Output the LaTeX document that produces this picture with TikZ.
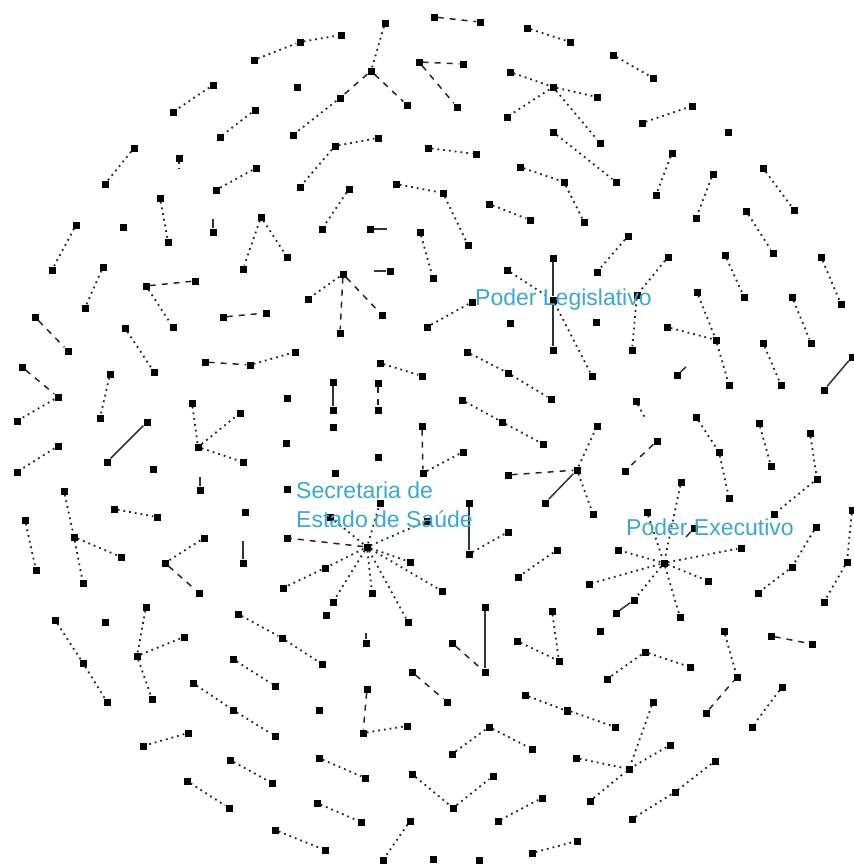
\documentclass[tikz,border=0pt]{standalone}
\usepackage{fontspec}
\setmainfont{Liberation Sans}
\begin{document}
\begin{tikzpicture}[x=1pt,y=-1pt,
  v/.style={rectangle,fill=black,draw=none,minimum size=7pt,inner sep=0pt},
  dl/.style={draw=black!85,line width=1.8pt,dash pattern=on 1.8pt off 4pt},
  hl/.style={draw=black!85,line width=1.5pt,dash pattern=on 6pt off 6pt},
  sl/.style={draw=black!80,line width=1.5pt},
  lbl/.style={text={rgb,255:red,58;green,168;blue,212},font=\fontsize{23}{29}\selectfont,inner sep=0pt}]
\fill[white] (0,0) rectangle (854,865);
\useasboundingbox (0,0) rectangle (854,865);
% nodes
\foreach \n/\x/\y in {A1/254/60, A2/300/42, A3/341/35, A4/213/85, A5/173/112, A6/255/110, A7/220/137, A8/134/148, A9/105/184, A10/179/158, A11/256/168, A12/216/190, A13/160/198, A14/168/242, A15/261/217, A16/243/269, A17/287/257, A18/76/225, A19/52/270, A20/123/227, A21/213/232, A22/103/267, A23/85/308, A24/146/286, A25/195/281, A26/173/327, A27/35/317, A28/68/351, A29/125/328, A30/154/372, A31/223/317, A32/266/313, A33/205/362, A34/250/365, A35/295/352, A36/22/367, A37/58/397, A38/17/421, A39/110/374, A40/100/418, A41/192/403, A42/198/447, A43/240/413, A44/243/462, A45/287/398, A46/147/422, A47/107/462, A48/58/446, A49/17/472, A50/153/469, A51/286/443, A52/64/491, A53/74/537, A54/83/583, A55/121/557, A56/200/490, A57/287/489, A58/114/509, A59/157/517, A60/245/512, A61/25/520, A62/36/570, A63/204/538, A64/165/563, A65/199/593, A66/243/563, A67/287/538, A68/283/588, A69/146/607, A70/137/656, A71/184/637, A72/152/699, A73/55/620, A74/83/663, A75/107/702, A76/105/622, A77/238/614, A78/282/638, A79/322/664, A80/233/659, A81/275/686, A82/193/683, A83/233/710, A84/275/736, A85/188/733, A86/143/746, A87/230/760, A88/272/783, A89/187/781, A90/229/808, A91/275/830, A92/325/850}
  \node[v] (\n) at (\x,\y) {};
\foreach \n/\x/\y in {B1/385/23, B2/371/71, B3/340/98, B4/293/135, B5/407/105, B6/434/17, B7/480/22, B8/527/28, B9/570/42, B10/297/87, B11/419/62, B12/457/107, B13/463/64, B14/510/72, B15/553/87, B16/507/117, B17/597/97, B18/600/143, B19/335/146, B20/378/138, B21/300/187, B22/428/148, B23/476/154, B24/349/189, B25/322/229, B26/396/184, B27/443/193, B28/468/245, B29/489/204, B30/530/220, B31/553/132, B32/616/182, B33/520/167, B34/564/182, B35/584/222, B36/370/229, B37/420/232, B38/433/278, B39/390/271, B40/343/274, B41/308/299, B42/340/333, B43/382/315, B44/472/302, B45/427/327, B46/507/270, B47/553/258, B48/553/350, B49/510/323, B50/467/352, B51/508/373, B52/551/399, B53/380/363, B54/422/376, B55/333/382, B56/333/410, B57/378/383, B58/378/410, B59/462/400, B60/502/422, B62/543/444, B63/508/475, B64/333/427, B65/422/426, B66/423/473, B67/463/452, B69/378/457, B70/335/473, B73/469/503, B74/469/554, B75/508/532, B76/325/568, B77/380/503, B78/330/517, B79/427/521, B80/410/562, B81/442/591, B82/408/622, B83/372/593, B84/333/602, B85/326/615, B86/557/550, B87/518/577, B88/485/607, B89/485/672, B90/452/643, B91/552/611, B92/366/643, B93/517/641, B94/559/661, B95/367/689, B96/363/733, B97/407/726, B98/412/672, B99/447/702, B100/525/695, B101/567/711, B102/319/710, B103/489/727, B104/452/754, B105/532/749, B106/319/758, B107/365/778, B108/412/774, B109/453/808, B110/493/776, B111/317/803, B112/361/822, B113/410/821, B114/383/860, B115/542/798, B116/498/821, B117/433/859, B118/479/860, B119/532/853, B120/577/841}
  \node[v] (\n) at (\x,\y) {};
\foreach \n/\x/\y in {C1/613/55, C2/653/78, C3/642/123, C4/692/106, C5/728/132, C6/672/153, C7/656/195, C8/713/174, C9/696/218, C10/763/168, C11/794/210, C12/746/211, C13/773/253, C14/628/236, C15/597/272, C16/668/257, C17/637/295, C18/632/350, C19/725/255, C20/744/297, C21/821/257, C22/841/304, C23/697/292, C24/716/340, C25/667/327, C26/729/385, C27/792/297, C28/811/343, C29/763/343, C30/781/385, C31/596/322, C32/592/376, C33/677/375, C34/824/390, C35/852/357, C36/636/401, C37/696/417, C38/719/452, C39/729/498, C40/759/423, C41/771/466, C42/597/426, C43/810/433, C44/817/479, C45/774/514, C46/657/441, C47/625/471, C48/593/514, C49/545/503, C50/681/482, C51/647/512, C52/694/528, C53/816/527, C54/792/567, C55/758/593, C56/852/510, C57/847/562, C58/824/602, C59/618/550, C60/741/548, C61/708/581, C62/680/617, C63/589/584, C64/634/600, C65/616/613, C66/600/631, C67/724/631, C68/737/677, C69/771/636, C70/812/644, D1/645/652, D2/607/679, D3/690/667, D4/653/702, D5/629/769, D6/567/710, D7/615/727, D8/706/713, D9/782/687, D10/752/727, D11/670/745, D12/576/758, D13/590/801, D14/715/761, D15/675/792, D16/632/819, L/553/300, S/367/547, E/664/563, M/577/470}
  \node[v] (\n) at (\x,\y) {};
% free ends of short stubs
\coordinate (t1) at (179,171);
\coordinate (t2) at (213,219);
\coordinate (t3) at (200,477);
\coordinate (t4) at (243,541);
\coordinate (t5) at (387,229);
\coordinate (t6) at (374,271);
\coordinate (t7) at (686,367);
\coordinate (t8) at (645,418);
\coordinate (t9) at (686,537);
\coordinate (t10) at (366,633);
% dotted connectors
\foreach \a/\b in {A1/A2, A2/A3, A4/A5, A6/A7, A8/A9, A11/A12, A13/A14, A15/A16, A15/A17, A18/A19, A22/A23, A24/A26, A29/A30, A34/A35, A37/A38, A39/A40, A41/A42, A42/A43, A42/A44, A48/A49, A52/A53, A53/A54, A53/A55, A58/A59, A61/A62, A63/A64, A69/A70, A70/A71, A70/A72, A73/A74, A74/A75, A77/A78, A78/A79, A80/A81, A82/A83, A83/A84, A85/A86, A87/A88, A89/A90, A91/A92, A10/t1, C36/t8}
  \draw[dl] (\a) -- (\b);
\foreach \a/\b in {B1/B2, B3/B4, B8/B9, B14/B15, B15/B16, B15/B17, B15/B18, B19/B20, B19/B21, B22/B23, B24/B25, B26/B27, B27/B28, B29/B30, B31/B32, B33/B34, B34/B35, B37/B38, B40/B41, B44/B45, B46/L, B50/B51, B51/B52, B53/B54, B59/B60, B60/B62, B67/B66, B75/B74, S/B76, B76/A68, S/B77, S/B78, S/B79, S/B80, S/B81, S/B82, S/B83, S/B84, B86/B87, B91/B94, B93/B94, B96/B97, B100/B101, B103/B104, B103/B105, B106/B107, B108/B109, B109/B110, B111/B112, B113/B114, B115/B116, B119/B120}
  \draw[dl] (\a) -- (\b);
\foreach \a/\b in {C1/C2, C3/C4, C6/C7, C8/C9, C10/C11, C12/C13, C14/C15, C16/C17, C17/C18, C19/C20, C21/C22, C23/C24, C25/C24, C24/C26, C27/C28, C29/C30, L/C32, C37/C38, C38/C39, C40/C41, C43/C44, C44/C45, M/C42, M/C48, C50/E, C51/E, C53/C54, C54/C55, C56/C57, C57/C58, E/C59, E/C60, E/C61, E/C62, E/C63, E/C64, C67/C68, D1/D2, D1/D3, D4/D5, D6/D7, D9/D10, D11/D5, D12/D5, D13/D5, D14/D15, D15/D16}
  \draw[dl] (\a) -- (\b);
% dashed connectors
\foreach \a/\b in {A24/A25, A27/A28, A31/A32, A33/A34, A36/A37, A64/A65, B2/B3, B2/B5, B6/B7, B11/B12, B11/B13, B40/B42, B40/B43, B57/B58, B63/M, B65/B66, S/A67, B90/B89, B95/B96, B98/B99, C46/C47, C69/C70, D8/C68}
  \draw[hl] (\a) -- (\b);
% solid connectors
\foreach \a/\b in {A46/A47, B47/L, L/B48, B55/B56, B73/B74, B88/B89, C34/C35, M/C49, C64/C65, A21/t2, A56/t3, A66/t4, B36/t5, B39/t6, C33/t7, C52/t9, B92/t10}
  \draw[sl] (\a) -- (\b);
% labels
\node[lbl,anchor=base west] (tL) at (475,305) {Poder Legislativo};
\node[lbl,anchor=base west] (tS1) at (296,498) {Secretaria de};
\node[lbl,anchor=base west] (tS2) at (296,527) {Estado de Saúde};
\node[lbl,anchor=base west] (tE) at (626,535) {Poder Executivo};
\end{tikzpicture}
\end{document}
